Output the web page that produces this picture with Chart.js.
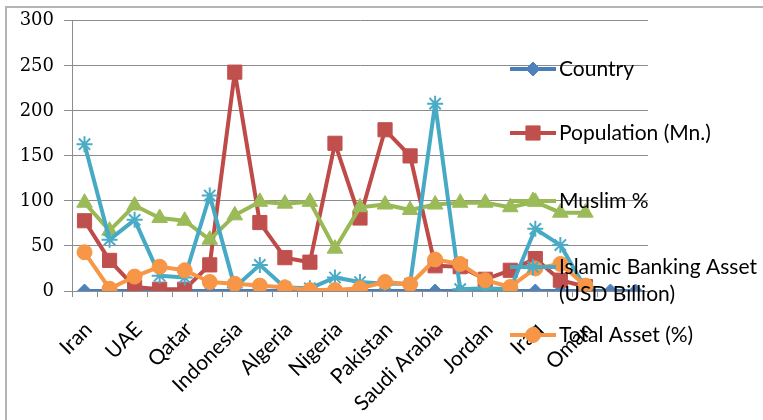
<!DOCTYPE html>
<html>
<head>
<meta charset="utf-8">
<title>Islamic banking indicators by country</title>
<script src="https://cdn.jsdelivr.net/npm/chart.js@4.4.1/dist/chart.umd.min.js"></script>
<style>
  html, body { margin: 0; padding: 0; background: #ffffff; }
  #wrap { position: relative; width: 763px; height: 420px; overflow: hidden; }
  #wrap canvas { position: absolute; left: 0; top: 0; }
  #frame {
    position: absolute; left: 5px; top: 6px; width: 820px; height: 480px;
    border-left: 2px solid #b4b4b4; border-top: 2px solid #b4b4b4;
    pointer-events: none;
  }
</style>
</head>
<body>
<div id="wrap">
  <canvas id="chart" width="763" height="420"></canvas>
  <div id="frame"></div>
</div>
<script>
// Countries along the category axis (every second name is printed)
const categories = [
  'Iran', 'Kuwait', 'UAE', 'Bahrain', 'Qatar', 'Malaysia', 'Indonesia', 'Turkey',
  'Algeria', 'Morocco', 'Nigeria', 'Egypt', 'Pakistan', 'Bangladesh', 'Saudi Arabia',
  'Yemen', 'Jordan', 'Syria', 'Iraq', 'Tunisia', 'Oman', 'Brunei', ''
];

const seriesNames = [
  'Country',
  'Population (Mn.)',
  'Muslim %',
  'Islamic Banking Asset (USD Billion)',
  'Total Asset (%)'
];

// The text "Country" column plots as zero on every row
const country = [0, 0, 0, 0, 0, 0, 0, 0, 0, 0, 0, 0, 0, 0, 0, 0, 0, 0, 0, 0, 0, 0, 0];

const population = [78, 34, 4.5, 2, 2, 29, 243, 76, 37, 32, 164, 81, 179, 150, 28, 27, 13, 23, 36, 12, 5, null, null];

const muslimPct = [98, 67, 95, 81, 78, 57, 84, 99, 97, 99, 47, 93, 96, 90, 96, 98, 98, 93, 99, 87, 87, null, null];

const bankingAsset = [163, 57, 79, 17, 15, 106, 4, 29, 4, 3, 15, 10, 8, 8, 208, 2, 3, 2, 69, 51, 3, null, null];

const totalAssetPct = [43, 2.5, 16, 27, 23, 10, 8, 6, 4, 1, 1, 3, 10, 7.5, 35, 30, 12, 4.5, 25, 30, 6, null, null];

const yTicks = { min: 0, max: 300, step: 50 };

const labelFont = 'Lato';
const labelSize = 21;
const axisGrey = '#8c8c8c';

function lineSeries(name, values, line, fill, style, radius, order, borderW) {
  return {
    label: name,
    data: values,
    borderColor: line,
    backgroundColor: fill,
    borderWidth: 4,
    borderJoinStyle: 'round',
    borderCapStyle: 'round',
    tension: 0,
    spanGaps: false,
    pointStyle: style,
    pointRadius: radius,
    pointHoverRadius: radius,
    pointBackgroundColor: fill,
    pointBorderColor: fill,
    pointBorderWidth: borderW,
    order: order
  };
}

// Legend drawn over the right part of the plot, after the lines
const overlayLegend = {
  id: 'overlayLegend',
  afterDatasetsDraw(chart) {
    const ctx = chart.ctx;
    const area = chart.chartArea;
    const symLeft = area.right - 138;
    const symRight = symLeft + 46;
    const textX = symRight + 3;
    const rowY = [69, 133, 201, 267, 335];
    const lineGap = 27;
    ctx.save();
    ctx.font = labelSize + 'px ' + labelFont;
    chart.data.datasets.forEach((ds, i) => {
      const y = rowY[i];
      ctx.save();
      ctx.strokeStyle = ds.borderColor;
      ctx.lineWidth = ds.borderWidth;
      ctx.lineCap = 'butt';
      ctx.beginPath();
      ctx.moveTo(symLeft, y);
      ctx.lineTo(symRight, y);
      ctx.stroke();
      ctx.fillStyle = ds.pointBackgroundColor;
      ctx.strokeStyle = ds.pointBorderColor;
      ctx.lineWidth = ds.pointBorderWidth;
      Chart.helpers.drawPoint(ctx, {
        pointStyle: ds.pointStyle,
        radius: ds.pointRadius,
        rotation: 0,
        borderWidth: ds.pointBorderWidth
      }, (symLeft + symRight) / 2, y);
      ctx.restore();

      ctx.fillStyle = '#000000';
      ctx.textAlign = 'left';
      ctx.textBaseline = 'middle';
      let lines = [ds.label];
      if (ctx.measureText(ds.label).width > 200) {
        lines = ds.label.split(/ (?=\()/);
      }
      lines.forEach((t, k) => ctx.fillText(t, textX, y + k * lineGap));
    });
    ctx.restore();
  }
};

const chart = new Chart(document.getElementById('chart'), {
  type: 'line',
  data: {
    labels: categories,
    datasets: [
      lineSeries(seriesNames[0], country, '#4a7ebb', '#4f81bd', 'rectRot', 7, 5, 1),
      lineSeries(seriesNames[1], population, '#be4b48', '#c0504d', 'rect', 10, 4, 1),
      lineSeries(seriesNames[2], muslimPct, '#98b954', '#9bbb59', 'triangle', 9, 3, 1),
      lineSeries(seriesNames[3], bankingAsset, '#46aac5', '#4bacc6', 'star', 8, 2, 2),
      lineSeries(seriesNames[4], totalAssetPct, '#f79646', '#f79646', 'circle', 7.5, 1, 1)
    ]
  },
  options: {
    responsive: false,
    animation: false,
    events: [],
    layout: { padding: { left: 0, right: 115, top: 20, bottom: 0 } },
    plugins: {
      legend: { display: false },
      tooltip: { enabled: false },
      title: { display: false }
    },
    scales: {
      x: {
        type: 'category',
        offset: true,
        grid: {
          display: true,
          drawOnChartArea: false,
          drawTicks: true,
          tickLength: 6,
          color: axisGrey,
          offset: true
        },
        border: { display: true, color: axisGrey, width: 1 },
        ticks: {
          autoSkip: false,
          minRotation: 45,
          maxRotation: 45,
          padding: 20,
          labelOffset: 4,
          color: '#000000',
          font: { family: labelFont, size: labelSize },
          callback: (value, index) => (index % 2 === 0 ? categories[index] : '')
        },
        afterFit(scale) { scale.height = 129; }
      },
      y: {
        min: yTicks.min,
        max: yTicks.max,
        grid: {
          color: axisGrey,
          lineWidth: 1,
          drawTicks: true,
          tickLength: 8
        },
        border: { display: true, color: axisGrey, width: 1 },
        ticks: {
          stepSize: yTicks.step,
          padding: 10,
          color: '#000000',
          font: { family: 'DejaVu Serif', size: 18 }
        },
        afterFit(scale) { scale.width = 72; }
      }
    }
  },
  plugins: [overlayLegend]
});
</script>
</body>
</html>
